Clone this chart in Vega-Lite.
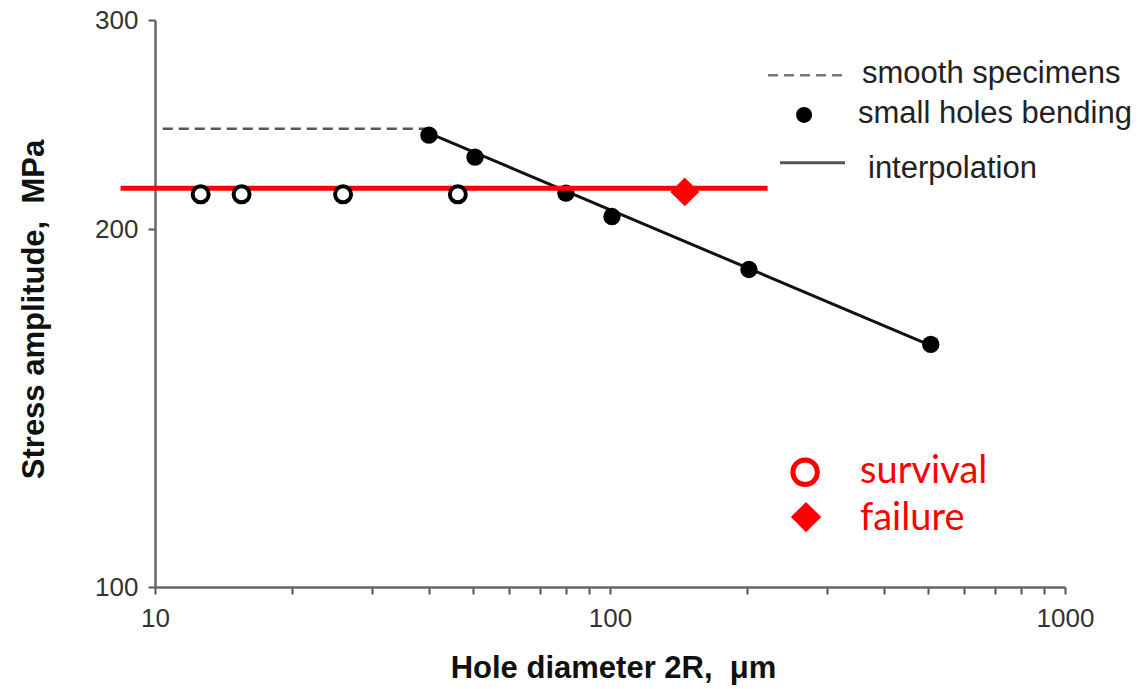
{
  "$schema": "https://vega.github.io/schema/vega-lite/v6.json",
  "width": 910,
  "height": 567,
  "autosize": {"type": "none"},
  "padding": {"left": 155, "top": 20, "right": 81, "bottom": 102},
  "background": "white",
  "config": {"view": {"stroke": null}},
  "datasets": {
    "smooth": [{"x": 10.4, "y": 243}, {"x": 40, "y": 243}],
    "interp": [{"x": 40, "y": 241}, {"x": 500, "y": 160}],
    "bending": [
      {"x": 40, "y": 240}, {"x": 50.5, "y": 230}, {"x": 80, "y": 214.5},
      {"x": 101, "y": 205}, {"x": 202, "y": 185}, {"x": 507, "y": 160}
    ],
    "redline": [{"x": 8.4, "y": 216.5}, {"x": 222, "y": 216.5}],
    "survival": [
      {"x": 12.6, "y": 214}, {"x": 15.5, "y": 214}, {"x": 25.9, "y": 214}, {"x": 46.3, "y": 214}
    ],
    "failure": [{"x": 146, "y": 215}],
    "legDash": [{"x": 222.5, "y": 269.6}, {"x": 333.5, "y": 269.6}],
    "legDot": [{"x": 267, "y": 249.6}],
    "legSolid": [{"x": 236.4, "y": 227.5}, {"x": 328.5, "y": 227.5}],
    "legText": [
      {"x": 358, "y": 265.6, "label": "smooth specimens"},
      {"x": 350.7, "y": 245.7, "label": "small holes bending"},
      {"x": 369, "y": 220.9, "label": "interpolation"}
    ],
    "legCircle": [{"x": 268.4, "y": 124.9}],
    "legDiamond": [{"x": 269.7, "y": 114.5}],
    "legRedText": [
      {"x": 354.4, "y": 122.3, "label": "survival"},
      {"x": 354.4, "y": 111.7, "label": "failure"}
    ]
  },
  "encoding": {
    "x": {
      "field": "x", "type": "quantitative",
      "scale": {"type": "log", "domain": [10, 1000], "nice": false},
      "axis": {
        "values": [10, 20, 30, 40, 50, 60, 70, 80, 90, 100, 200, 300, 400, 500, 600, 700, 800, 900, 1000],
        "labelExpr": "(datum.value == 10 || datum.value == 100 || datum.value == 1000) ? format(datum.value, 'd') : ''",
        "labelOverlap": false, "labelFlush": false,
        "grid": false, "tickSize": 7, "tickWidth": 2, "tickColor": "#555",
        "domainColor": "#666", "domainWidth": 2.5,
        "labelFont": "Liberation Sans", "labelFontSize": 26, "labelColor": "#333", "labelPadding": 11,
        "title": "Hole diameter 2R,\u00a0\u00a0μm",
        "titleFont": "Liberation Sans", "titleFontSize": 31, "titleFontWeight": "bold", "titleColor": "#111",
        "titleX": 458, "titleY": 90, "titleAlign": "center", "titleBaseline": "alphabetic"
      }
    },
    "y": {
      "field": "y", "type": "quantitative",
      "scale": {"type": "log", "domain": [100, 300], "nice": false},
      "axis": {
        "values": [100, 200, 300],
        "format": "d",
        "grid": false, "tickSize": 7, "tickWidth": 2, "tickColor": "#555",
        "domainColor": "#666", "domainWidth": 2.5,
        "labelFont": "Liberation Sans", "labelFontSize": 26, "labelColor": "#333", "labelPadding": 10,
        "title": "Stress amplitude,\u00a0\u00a0MPa",
        "titleFont": "Liberation Sans", "titleFontSize": 31, "titleFontWeight": "bold", "titleColor": "#111",
        "titleX": -112, "titleY": 289, "titleAngle": -90, "titleAlign": "center", "titleBaseline": "alphabetic"
      }
    }
  },
  "layer": [
    {"data": {"name": "smooth"}, "mark": {"type": "line", "color": "#555", "strokeWidth": 2.5, "strokeDash": [10, 6]}},
    {"data": {"name": "interp"}, "mark": {"type": "line", "color": "#111", "strokeWidth": 3}},
    {"data": {"name": "bending"}, "mark": {"type": "point", "shape": "circle", "filled": true, "color": "#000", "size": 300, "opacity": 1}},
    {"data": {"name": "redline"}, "mark": {"type": "line", "color": "#ff0000", "strokeWidth": 5}},
    {"data": {"name": "survival"}, "mark": {"type": "point", "shape": "circle", "filled": false, "stroke": "#000", "fill": "#fff", "fillOpacity": 1, "strokeWidth": 4, "size": 256, "opacity": 1}},
    {"data": {"name": "failure"}, "mark": {"type": "point", "shape": "diamond", "filled": true, "color": "#ff0000", "size": 830, "opacity": 1}},
    {"data": {"name": "legDash"}, "mark": {"type": "line", "color": "#777", "strokeWidth": 2.5, "strokeDash": [10, 6]}},
    {"data": {"name": "legDot"}, "mark": {"type": "point", "shape": "circle", "filled": true, "color": "#000", "size": 256, "opacity": 1}},
    {"data": {"name": "legSolid"}, "mark": {"type": "line", "color": "#555", "strokeWidth": 3}},
    {"data": {"name": "legText"}, "mark": {"type": "text", "align": "left", "baseline": "alphabetic", "font": "Liberation Sans", "fontSize": 31, "color": "#222"}, "encoding": {"text": {"field": "label"}}},
    {"data": {"name": "legCircle"}, "mark": {"type": "point", "shape": "circle", "filled": false, "stroke": "#ff0000", "fill": "#fff", "fillOpacity": 1, "strokeWidth": 5, "size": 600, "opacity": 1}},
    {"data": {"name": "legDiamond"}, "mark": {"type": "point", "shape": "diamond", "filled": true, "color": "#ff0000", "size": 925, "opacity": 1}},
    {"data": {"name": "legRedText"}, "mark": {"type": "text", "align": "left", "baseline": "alphabetic", "font": "Lato", "fontSize": 38, "color": "#ff0000"}, "encoding": {"text": {"field": "label"}}}
  ]
}
